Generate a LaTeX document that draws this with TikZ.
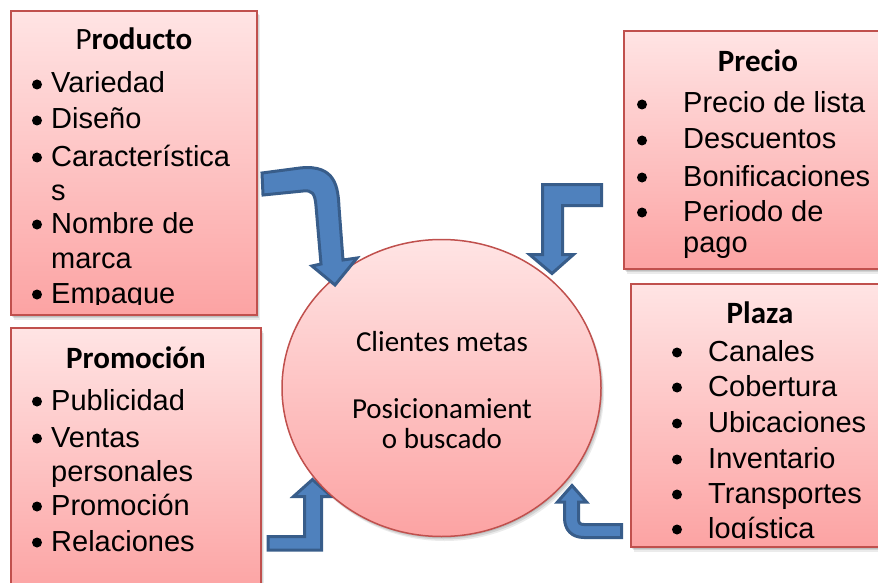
\documentclass[tikz,border=0pt]{standalone}
\usepackage{fontspec}
\setmainfont{Liberation Sans}
\newfontfamily\carlito{Carlito}
\usetikzlibrary{shapes.geometric}
\definecolor{boxline}{RGB}{192,80,77}
\definecolor{boxtop}{RGB}{255,228,228}
\definecolor{boxbot}{RGB}{252,163,163}
\definecolor{arrfill}{RGB}{79,129,189}
\definecolor{arrline}{RGB}{56,93,138}
\begin{document}
\begin{tikzpicture}[x=1pt,y=-1pt,
  softshadow/.style={
    preaction={fill=black,opacity=0.10,transform canvas={shift={(1pt,-1.5pt)}}},
    preaction={fill=black,opacity=0.10,transform canvas={shift={(2pt,-3pt)}}},
    preaction={fill=black,opacity=0.08,transform canvas={shift={(3pt,-4.5pt)}}}},
  box/.style={rectangle, draw=boxline, line width=2pt, top color=boxtop, bottom color=boxbot, inner sep=0pt, softshadow},
  blob/.style={ellipse, draw=boxline, line width=1.5pt, top color=boxtop, bottom color=boxbot, inner sep=0pt, softshadow},
  bigarrow/.style={fill=arrfill, draw=arrline, line width=3pt, line join=miter, miter limit=4},
  it/.style={anchor=base west, inner sep=0pt, font=\fontsize{29}{35}\selectfont},
  ttl/.style={anchor=base, inner sep=0pt, font=\carlito\bfseries\fontsize{31}{37}\selectfont},
  ctext/.style={anchor=base, inner sep=0pt, font=\carlito\fontsize{29}{35}\selectfont},
  dot/.style={fill=black}]
\useasboundingbox (0,0) rectangle (878,583);
\clip (0,0) rectangle (878,583);

% boxes
\node[box, minimum width=246pt, minimum height=304pt] (prod) at (134,163) {};
\node[box, minimum width=268pt, minimum height=238pt] (prec) at (758,150) {};
\node[box, minimum width=258pt, minimum height=263pt] (plaz) at (760,415.5) {};
\node[box, minimum width=250pt, minimum height=266pt] (prom) at (136,461) {};

% lower arrows (behind the circle)
\draw[bigarrow] (268,536.5) -- (304.5,536.5) -- (304.5,496.5) -- (293.5,496.5) -- (312.5,479.5)
  -- (331.5,496.5) -- (321.5,496.5) -- (321.5,550) -- (268,550) -- cycle;
\draw[bigarrow] (621.5,524.5) -- (584,524.5) .. controls (580,524.5) and (578.5,523) .. (578.5,519)
  -- (578.5,502) -- (586.5,502) -- (572,485.5) -- (557.5,502) -- (564.5,502) -- (564.5,518)
  .. controls (564.5,530) and (572,537.5) .. (584,537.5) -- (621.5,537.5) -- cycle;

% circle
\node[blob, minimum width=319pt, minimum height=297pt] (cli) at (441.5,388) {};

% upper arrows (over the circle)
\draw[bigarrow] (262,173) -- (300,168) .. controls (336,164) and (338,188) .. (339,207)
  -- (343,260) -- (357,258) -- (335,285) -- (312,266) -- (321,264) -- (316,206)
  .. controls (315,193) and (312,190) .. (303,191) -- (263,195) -- cycle;
\draw[bigarrow] (601.5,184.5) -- (542.5,184.5) -- (542.5,254.5) -- (529.5,254.5) -- (552,273.5)
  -- (573.5,254.5) -- (562.5,254.5) -- (562.5,205.5) -- (601.5,205.5) -- cycle;

% circle text
\node[ctext] (c1) at (442,351) {Clientes metas};
\node[ctext] (c2) at (442,418) {Posicionamient};
\node[ctext] (c3) at (442,448) {o buscado};

% Producto
\begin{scope}
\clip (11,11) rectangle (257,304);
\node[ttl] (prodT) at (134,50) {{\mdseries P}roducto};
\node[it] (prod1) at (51,93) {Variedad};
\node[it] (prod2) at (51,129) {Diseño};
\node[it] (prod3) at (51,166) {Característica};
\node[it] (prod4) at (51,200) {s};
\node[it] (prod5) at (51,233) {Nombre de};
\node[it] (prod6) at (51,268) {marca};
\node[it] (prod7) at (51,303) {Empaque};
\foreach \yy in {93,129,166,233,303} \fill[dot] (37,\yy-8.5) circle (5pt);
\end{scope}

% Precio
\node[ttl] (precT) at (758,72) {Precio};
\node[it] (prec1) at (683,113) {Precio de lista};
\node[it] (prec2) at (683,149) {Descuentos};
\node[it] (prec3) at (683,186) {Bonificaciones};
\node[it] (prec4) at (683,221) {Periodo de};
\node[it] (prec5) at (683,252) {pago};
\foreach \yy in {113,149,186,221} \fill[dot] (642,\yy-8.5) circle (5pt);

% Plaza
\begin{scope}
\clip (631,284) rectangle (889,538);
\node[ttl] (plazT) at (760,323) {Plaza};
\node[it] (plaz1) at (708,361) {Canales};
\node[it] (plaz2) at (708,396) {Cobertura};
\node[it] (plaz3) at (708,432) {Ubicaciones};
\node[it] (plaz4) at (708,468) {Inventario};
\node[it] (plaz5) at (708,503) {Transportes};
\node[it] (plaz6) at (708,538) {logística};
\foreach \yy in {361,396,432,468,503,538} \fill[dot] (677,\yy-8.5) circle (5pt);
\end{scope}

% Promocion
\node[ttl] (promT) at (136,368) {Promoción};
\node[it] (prom1) at (51,410) {Publicidad};
\node[it] (prom2) at (51,447) {Ventas};
\node[it] (prom3) at (51,481) {personales};
\node[it] (prom4) at (51,515) {Promoción};
\node[it] (prom5) at (51,551) {Relaciones};
\foreach \yy in {410,447,515,551} \fill[dot] (37,\yy-8.5) circle (5pt);
\end{tikzpicture}
\end{document}
